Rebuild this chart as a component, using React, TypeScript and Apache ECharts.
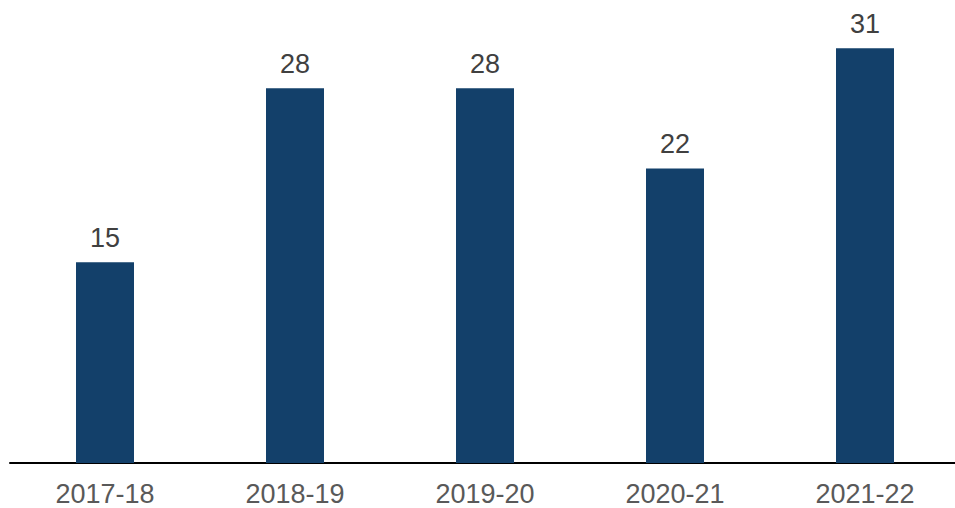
import React, { useEffect, useRef } from "react";
import * as echarts from "echarts";

const categories = ["2017-18", "2018-19", "2019-20", "2020-21", "2021-22"];
const values = [15, 28, 28, 22, 31];

export default function App() {
  const ref = useRef<HTMLDivElement>(null);
  useEffect(() => {
    if (!ref.current) return;
    const chart = echarts.init(ref.current, null, { renderer: "svg" });
    chart.setOption({
      animation: false,
      grid: { left: 10, right: 5, top: 8, bottom: 45, containLabel: false },
      xAxis: {
        type: "category",
        data: categories,
        axisLine: { show: true, lineStyle: { color: "#000", width: 2 } },
        axisTick: { show: false },
        axisLabel: {
          color: "#595959",
          fontSize: 27,
          fontFamily: "Liberation Sans, Arial, sans-serif",
          margin: 17,
        },
      },
      yAxis: {
        type: "value",
        min: 0,
        max: 34,
        show: false,
        splitLine: { show: false },
      },
      series: [
        {
          type: "bar",
          data: values,
          barWidth: 58,
          itemStyle: { color: "#13406A" },
          label: {
            show: true,
            position: "top",
            distance: 11,
            color: "#404040",
            fontSize: 27,
            fontFamily: "Liberation Sans, Arial, sans-serif",
          },
        },
      ],
    });
    return () => chart.dispose();
  }, []);
  return (
    <div
      style={{ position: "fixed", left: 0, top: 0, width: 955, height: 508, overflow: "hidden", background: "#fff" }}
    >
      <div ref={ref} style={{ width: 965, height: 508 }} />
    </div>
  );
}
